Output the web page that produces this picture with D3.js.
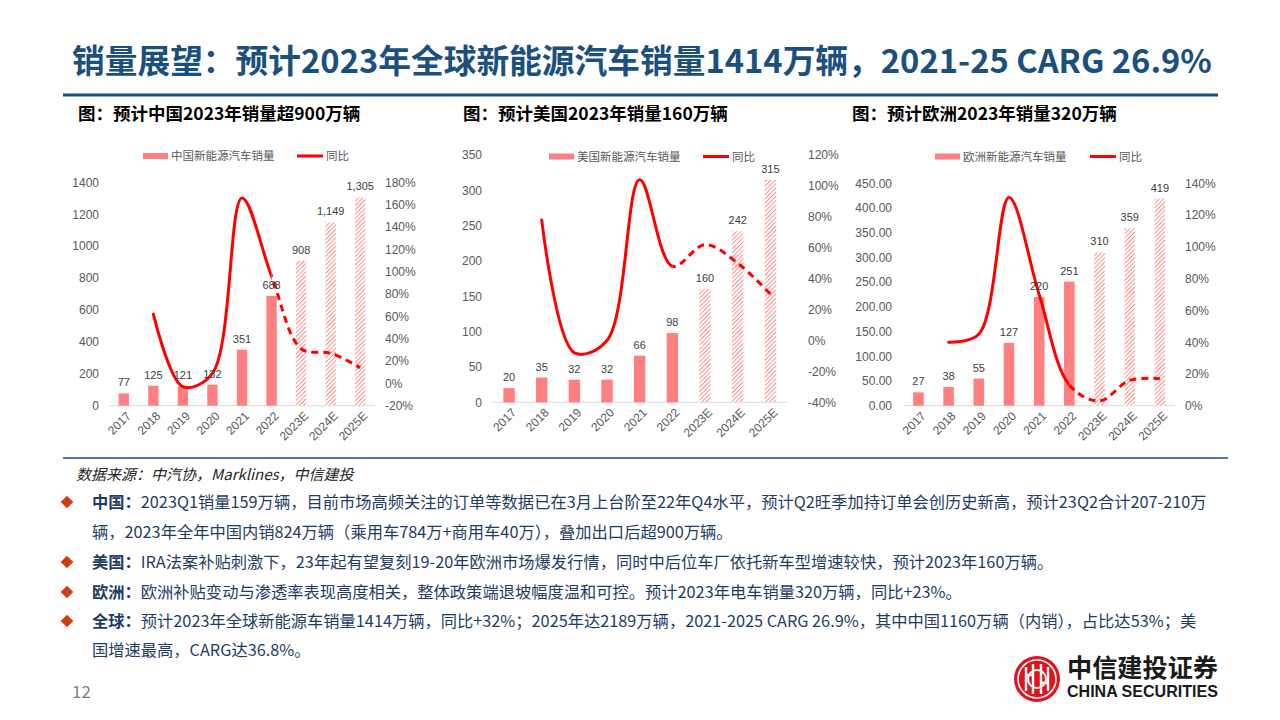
<!DOCTYPE html>
<html>
<head>
<meta charset="utf-8">
<script src="https://cdn.jsdelivr.net/npm/d3@7"></script>
<style>
  body { margin: 0; background: #fff; }
  svg { display: block; }
</style>
</head>
<body>
<div id="slide"></div>
<script>
//------------------------DATA------------------------//
const years = ["2017", "2018", "2019", "2020", "2021", "2022", "2023E", "2024E", "2025E"];

const chinaSales = [77, 125, 121, 132, 351, 688, 908, 1149, 1305];
const chinaYoY   = [null, 62, -3, 9, 166, 96, 31, 27, 14];
const usSales    = [20, 35, 32, 32, 66, 98, 160, 242, 315];
const usYoY      = [null, 78, -8, 0, 104, 48, 62, 50, 30];
const euSales    = [27, 38, 55, 127, 220, 251, 310, 359, 419];
const euYoY      = [null, 40, 45, 131, 70, 13, 3, 16, 17];

const chinaLeftTicks  = [0, 200, 400, 600, 800, 1000, 1200, 1400];
const chinaRightTicks = [-20, 0, 20, 40, 60, 80, 100, 120, 140, 160, 180];
const usLeftTicks     = [0, 50, 100, 150, 200, 250, 300, 350];
const usRightTicks    = [-40, -20, 0, 20, 40, 60, 80, 100, 120];
const euLeftTicks     = [0, 50, 100, 150, 200, 250, 300, 350, 400, 450];
const euRightTicks    = [0, 20, 40, 60, 80, 100, 120, 140];

const titleText = "销量展望：预计2023年全球新能源汽车销量1414万辆，2021-25 CARG 26.9%";
const chartTitles = ["图：预计中国2023年销量超900万辆", "图：预计美国2023年销量160万辆", "图：预计欧洲2023年销量320万辆"];
const legendNames = ["中国新能源汽车销量", "美国新能源汽车销量", "欧洲新能源汽车销量"];
const sourceText = "数据来源：中汽协，Marklines，中信建投";
const bullets = [
  {label: "中国：", text: "2023Q1销量159万辆，目前市场高频关注的订单等数据已在3月上台阶至22年Q4水平，预计Q2旺季加持订单会创历史新高，预计23Q2合计207-210万"},
  {label: "", text: "辆，2023年全年中国内销824万辆（乘用车784万+商用车40万），叠加出口后超900万辆。"},
  {label: "美国：", text: "IRA法案补贴刺激下，23年起有望复刻19-20年欧洲市场爆发行情，同时中后位车厂依托新车型增速较快，预计2023年160万辆。"},
  {label: "欧洲：", text: "欧洲补贴变动与渗透率表现高度相关，整体政策端退坡幅度温和可控。预计2023年电车销量320万辆，同比+23%。"},
  {label: "全球：", text: "预计2023年全球新能源车销量1414万辆，同比+32%；2025年达2189万辆，2021-2025 CARG 26.9%，其中中国1160万辆（内销），占比达53%；美"},
  {label: "", text: "国增速最高，CARG达36.8%。"}
];

//------------------------SVG------------------------//
const W = 1280, H = 720;
const CJK = "'Noto Sans CJK SC', 'Microsoft YaHei', sans-serif";
const LAT = "'Liberation Sans', Arial, 'Noto Sans CJK SC', sans-serif";
const blue = "#1a4f7e";
const textBlue = "#1f3d63";
const barColor = "#ff8080";
const lineColor = "#ff0000";

const svg = d3.select("#slide").append("svg")
  .attr("width", W).attr("height", H);

svg.append("rect").attr("width", W).attr("height", H).attr("fill", "#fff");

// hatch pattern for forecast bars
svg.append("defs").append("pattern")
  .attr("id", "hatch")
  .attr("patternUnits", "userSpaceOnUse")
  .attr("width", 3).attr("height", 3)
  .attr("patternTransform", "rotate(45)")
  .call(p => {
    p.append("rect").attr("width", 3).attr("height", 3).attr("fill", "#fff");
    p.append("line").attr("x1", 0).attr("y1", 0).attr("x2", 0).attr("y2", 3)
      .attr("stroke", barColor).attr("stroke-width", 1.8);
  });

function fitWidth(sel, target) {
  const w = sel.node().getComputedTextLength();
  const fs = parseFloat(sel.attr("font-size"));
  sel.attr("font-size", fs * target / w);
  return fs * target / w;
}

//------------------------HEADER------------------------//
const title = svg.append("text")
  .attr("x", 72).attr("y", 73)
  .attr("font-family", CJK).attr("font-weight", "bold")
  .attr("font-size", 31).attr("fill", blue)
  .text(titleText);
fitWidth(title, 1140);

svg.append("line")
  .attr("x1", 63).attr("x2", 1218).attr("y1", 95).attr("y2", 95)
  .attr("stroke", blue).attr("stroke-width", 3);

const subX = [78, 463, 852];
chartTitles.forEach((t, i) => {
  svg.append("text")
    .attr("x", subX[i]).attr("y", 120)
    .attr("font-family", CJK).attr("font-weight", "bold")
    .attr("font-size", 17.5).attr("fill", "#000")
    .text(t);
});

//------------------------CHARTS------------------------//
const charts = [
  {sales: chinaSales, yoy: chinaYoY, leftTicks: chinaLeftTicks, rightTicks: chinaRightTicks,
   x0: 109, x1: 375, yTop: 182.3, yBot: 405.7, leftFmt: d3.format("d"),
   leftLabelX: 99, rightLabelX: 385, legendY: 156, legRect: 143, legLine: 297, name: legendNames[0]},
  {sales: usSales, yoy: usYoY, leftTicks: usLeftTicks, rightTicks: usRightTicks,
   x0: 492.7, x1: 786.7, yTop: 155, yBot: 402.3, leftFmt: d3.format("d"),
   leftLabelX: 482, rightLabelX: 808, legendY: 156.5, legRect: 549, legLine: 703, name: legendNames[1]},
  {sales: euSales, yoy: euYoY, leftTicks: euLeftTicks, rightTicks: euRightTicks,
   x0: 903.3, x1: 1175, yTop: 183.3, yBot: 405.7, leftFmt: d3.format(".2f"),
   leftLabelX: 892, rightLabelX: 1185, legendY: 156.5, legRect: 935, legLine: 1090, name: legendNames[2]}
];

const labelFmt = d3.format(",");
const splitIndex = 5; // 2022: solid before, dashed after

charts.forEach((c, ci) => {
  const g = svg.append("g");

  const xScale = d3.scaleBand().domain(years).range([c.x0, c.x1]);
  const yLeft = d3.scaleLinear()
    .domain([c.leftTicks[0], c.leftTicks[c.leftTicks.length - 1]])
    .range([c.yBot, c.yTop]);
  const yRight = d3.scaleLinear()
    .domain([c.rightTicks[0], c.rightTicks[c.rightTicks.length - 1]])
    .range([c.yBot, c.yTop]);
  const bw = xScale.bandwidth() * 0.35;
  const cx = d => xScale(d) + xScale.bandwidth() / 2;

  // left axis
  g.append("g")
    .attr("transform", "translate(" + c.leftLabelX + ",0)")
    .call(d3.axisLeft(yLeft).tickValues(c.leftTicks).tickSize(0).tickPadding(0).tickFormat(c.leftFmt))
    .call(a => a.select(".domain").remove())
    .selectAll("text")
    .attr("font-family", LAT).attr("font-size", 12).attr("fill", "#595959");

  // right axis
  g.append("g")
    .attr("transform", "translate(" + c.rightLabelX + ",0)")
    .call(d3.axisRight(yRight).tickValues(c.rightTicks).tickSize(0).tickPadding(0).tickFormat(d => d + "%"))
    .call(a => a.select(".domain").remove())
    .selectAll("text")
    .attr("font-family", LAT).attr("font-size", 12).attr("fill", "#595959");

  // baseline
  g.append("line")
    .attr("x1", c.x0).attr("x2", c.x1)
    .attr("y1", yLeft(0)).attr("y2", yLeft(0))
    .attr("stroke", "#d9d9d9").attr("stroke-width", 1);

  // x labels
  g.selectAll(".xl")
    .data(years)
    .enter()
    .append("text")
    .attr("class", "xl")
    .attr("transform", d => "translate(" + (cx(d) + 5) + "," + (yLeft(0) + 8) + ") rotate(-45)")
    .attr("text-anchor", "end")
    .attr("dy", "0.35em")
    .attr("font-family", LAT).attr("font-size", 12).attr("fill", "#595959")
    .text(d => d);

  // bars
  const rows = years.map((y, i) => ({year: y, v: c.sales[i], yoy: c.yoy[i], est: y.endsWith("E")}));
  g.selectAll(".bar")
    .data(rows)
    .enter()
    .append("rect")
    .attr("class", "bar")
    .attr("x", d => cx(d.year) - bw / 2)
    .attr("width", bw)
    .attr("y", d => yLeft(d.v))
    .attr("height", d => yLeft(0) - yLeft(d.v))
    .attr("fill", d => d.est ? "url(#hatch)" : barColor);

  // line (one smooth curve, clipped into solid and dashed parts)
  const pts = rows.filter(d => d.yoy !== null);
  const line = d3.line()
    .x(d => cx(d.year))
    .y(d => yRight(d.yoy))
    .curve(d3.curveCatmullRom.alpha(0.5));
  const splitX = cx(years[splitIndex]);

  const defs = svg.select("defs");
  defs.append("clipPath").attr("id", "solid" + ci)
    .append("rect").attr("x", 0).attr("y", 0).attr("width", splitX).attr("height", H);
  defs.append("clipPath").attr("id", "dash" + ci)
    .append("rect").attr("x", splitX).attr("y", 0).attr("width", W - splitX).attr("height", H);

  g.append("path")
    .datum(pts)
    .attr("d", line)
    .attr("fill", "none")
    .attr("stroke", lineColor).attr("stroke-width", 3)
    .attr("stroke-linecap", "round")
    .attr("clip-path", "url(#solid" + ci + ")");

  g.append("path")
    .datum(pts)
    .attr("d", line)
    .attr("fill", "none")
    .attr("stroke", lineColor).attr("stroke-width", 3)
    .attr("stroke-dasharray", "7,5")
    .attr("clip-path", "url(#dash" + ci + ")");

  // data labels
  g.selectAll(".dl")
    .data(rows)
    .enter()
    .append("text")
    .attr("class", "dl")
    .attr("x", d => cx(d.year))
    .attr("y", d => yLeft(d.v) - 7)
    .attr("text-anchor", "middle")
    .attr("font-family", LAT).attr("font-size", 11).attr("fill", "#404040")
    .text(d => labelFmt(d.v));

  // legend
  g.append("rect")
    .attr("x", c.legRect).attr("y", c.legendY - 3)
    .attr("width", 25).attr("height", 6)
    .attr("fill", barColor);
  g.append("text")
    .attr("x", c.legRect + 28).attr("y", c.legendY).attr("dy", "0.35em")
    .attr("font-family", CJK).attr("font-size", 11.5).attr("fill", "#595959")
    .text(c.name);
  g.append("line")
    .attr("x1", c.legLine).attr("x2", c.legLine + 26)
    .attr("y1", c.legendY).attr("y2", c.legendY)
    .attr("stroke", lineColor).attr("stroke-width", 3);
  g.append("text")
    .attr("x", c.legLine + 29).attr("y", c.legendY).attr("dy", "0.35em")
    .attr("font-family", CJK).attr("font-size", 11.5).attr("fill", "#595959")
    .text("同比");
});

//------------------------FOOTER TEXT------------------------//
svg.append("line")
  .attr("x1", 63).attr("x2", 1228).attr("y1", 458).attr("y2", 458)
  .attr("stroke", blue).attr("stroke-width", 1.5);

svg.append("text")
  .attr("x", 76).attr("y", 480)
  .attr("font-family", CJK).attr("font-style", "italic")
  .attr("font-size", 15).attr("fill", "#262626")
  .text(sourceText);

const lineY = [502, 532, 562, 592, 621, 650];
let bodySize = 16;
bullets.forEach((b, i) => {
  const t = svg.append("text")
    .attr("x", 92).attr("y", lineY[i]).attr("dy", "0.35em")
    .attr("font-family", CJK).attr("font-size", bodySize).attr("fill", textBlue);
  if (b.label) {
    t.append("tspan").attr("font-weight", "bold").text(b.label);
    svg.append("rect")
      .attr("x", -4.5).attr("y", -4.5).attr("width", 9).attr("height", 9)
      .attr("transform", "translate(67," + lineY[i] + ") rotate(45)")
      .attr("fill", "#d23c14");
  }
  t.append("tspan").text(b.text);
  if (i === 0) bodySize = fitWidth(t, 1115);
});

svg.append("text")
  .attr("x", 72).attr("y", 698)
  .attr("font-family", CJK).attr("font-size", 17).attr("fill", "#7f7f7f")
  .text("12");

//------------------------LOGO------------------------//
const logo = svg.append("g").attr("transform", "translate(1037,679)");
logo.append("circle").attr("r", 23).attr("fill", "#e1141d");
logo.append("circle").attr("r", 19).attr("fill", "none").attr("stroke", "#fff").attr("stroke-width", 1.6);
logo.append("path")
  .attr("d", "M-11,-12 V12 M-4,-15 V15 M4,-15 V15 M11,-12 V12 M-11,-4 H-4 M4,4 H11")
  .attr("stroke", "#fff").attr("stroke-width", 2.4).attr("fill", "none");
logo.append("circle").attr("r", 9).attr("fill", "none").attr("stroke", "#fff").attr("stroke-width", 2);

const logoCn = svg.append("text")
  .attr("x", 1067).attr("y", 677)
  .attr("font-family", CJK).attr("font-weight", "bold")
  .attr("font-size", 25).attr("fill", "#1a1a1a")
  .text("中信建投证券");
fitWidth(logoCn, 151);
const logoEn = svg.append("text")
  .attr("x", 1067).attr("y", 697)
  .attr("font-family", LAT).attr("font-weight", "bold")
  .attr("font-size", 14).attr("fill", "#1a1a1a")
  .text("CHINA SECURITIES");
fitWidth(logoEn, 151);
</script>
</body>
</html>
